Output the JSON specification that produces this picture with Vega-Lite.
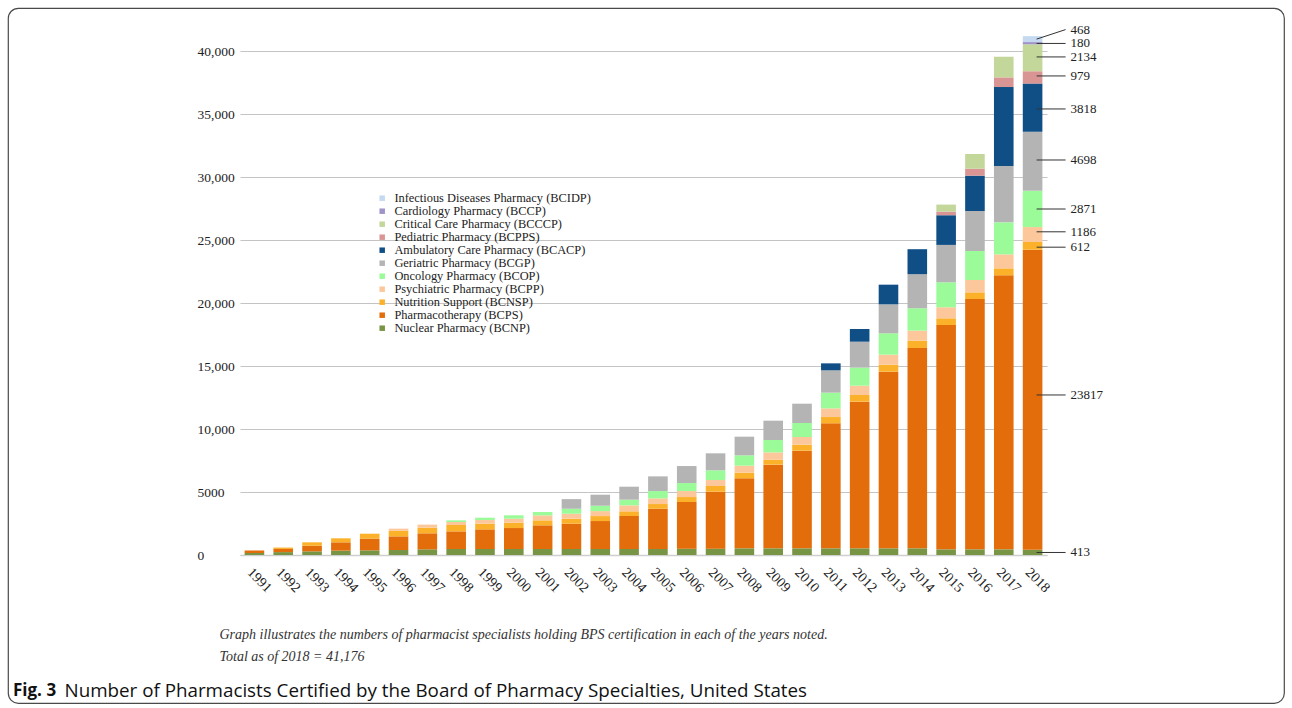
{
  "$schema": "https://vega.github.io/schema/vega-lite/v6.json",
  "width": 1276,
  "height": 695,
  "padding": {"left": 8, "top": 8, "right": 8, "bottom": 5},
  "autosize": {"type": "none"},
  "background": "white",
  "config": {
    "view": {"stroke": "#4a4a4a", "strokeWidth": 1.2, "cornerRadius": 10},
    "text": {"font": "Liberation Serif"}
  },
  "title": {
    "text": "Fig. 3",
    "orient": "bottom",
    "anchor": "start",
    "frame": "group",
    "offset": -7,
    "baseline": "alphabetic",
    "dx": 5,
    "font": "Open Sans",
    "fontSize": 17,
    "fontWeight": "bold",
    "color": "#111111"
  },
  "datasets": {
    "bps": [
      {"year": 1991, "BCNP": 160, "BCPS": 190},
      {"year": 1992, "BCNP": 230, "BCPS": 250, "BCNSP": 110},
      {"year": 1993, "BCNP": 290, "BCPS": 450, "BCNSP": 265},
      {"year": 1994, "BCNP": 345, "BCPS": 660, "BCNSP": 320},
      {"year": 1995, "BCNP": 370, "BCPS": 925, "BCNSP": 395},
      {"year": 1996, "BCNP": 395, "BCPS": 1085, "BCNSP": 450, "BCPP": 160},
      {"year": 1997, "BCNP": 450, "BCPS": 1270, "BCNSP": 450, "BCPP": 240},
      {"year": 1998, "BCNP": 475, "BCPS": 1400, "BCNSP": 505, "BCPP": 240, "BCOP": 130},
      {"year": 1999, "BCNP": 475, "BCPS": 1560, "BCNSP": 450, "BCPP": 290, "BCOP": 185},
      {"year": 2000, "BCNP": 475, "BCPS": 1665, "BCNSP": 425, "BCPP": 320, "BCOP": 265},
      {"year": 2001, "BCNP": 475, "BCPS": 1880, "BCNSP": 395, "BCPP": 395, "BCOP": 265},
      {"year": 2002, "BCNP": 475, "BCPS": 2010, "BCNSP": 395, "BCPP": 395, "BCOP": 395, "BCGP": 765},
      {"year": 2003, "BCNP": 475, "BCPS": 2220, "BCNSP": 395, "BCPP": 395, "BCOP": 425, "BCGP": 875},
      {"year": 2004, "BCNP": 475, "BCPS": 2620, "BCNSP": 370, "BCPP": 475, "BCOP": 450, "BCGP": 1030},
      {"year": 2005, "BCNP": 475, "BCPS": 3200, "BCNSP": 370, "BCPP": 450, "BCOP": 580, "BCGP": 1165},
      {"year": 2006, "BCNP": 505, "BCPS": 3700, "BCNSP": 395, "BCPP": 475, "BCOP": 635, "BCGP": 1350},
      {"year": 2007, "BCNP": 505, "BCPS": 4520, "BCNSP": 450, "BCPP": 475, "BCOP": 770, "BCGP": 1350},
      {"year": 2008, "BCNP": 530, "BCPS": 5555, "BCNSP": 450, "BCPP": 555, "BCOP": 820, "BCGP": 1480},
      {"year": 2009, "BCNP": 530, "BCPS": 6640, "BCNSP": 395, "BCPP": 580, "BCOP": 980, "BCGP": 1535},
      {"year": 2010, "BCNP": 530, "BCPS": 7750, "BCNSP": 475, "BCPP": 610, "BCOP": 1110, "BCGP": 1535},
      {"year": 2011, "BCNP": 530, "BCPS": 9920, "BCNSP": 500, "BCPP": 690, "BCOP": 1245, "BCGP": 1770, "BCACP": 555},
      {"year": 2012, "BCNP": 530, "BCPS": 11640, "BCNSP": 530, "BCPP": 740, "BCOP": 1430, "BCGP": 2060, "BCACP": 1005},
      {"year": 2013, "BCNP": 530, "BCPS": 14020, "BCNSP": 555, "BCPP": 795, "BCOP": 1695, "BCGP": 2300, "BCACP": 1560},
      {"year": 2014, "BCNP": 530, "BCPS": 15900, "BCNSP": 585, "BCPP": 795, "BCOP": 1775, "BCGP": 2700, "BCACP": 1985},
      {"year": 2015, "BCNP": 450, "BCPS": 17805, "BCNSP": 530, "BCPP": 875, "BCOP": 1985, "BCGP": 2965, "BCACP": 2355, "BCPPS": 290, "BCCCP": 555},
      {"year": 2016, "BCNP": 450, "BCPS": 19865, "BCNSP": 530, "BCPP": 980, "BCOP": 2300, "BCGP": 3175, "BCACP": 2805, "BCPPS": 555, "BCCCP": 1165},
      {"year": 2017, "BCNP": 450, "BCPS": 21745, "BCNSP": 555, "BCPP": 1110, "BCOP": 2540, "BCGP": 4470, "BCACP": 6270, "BCPPS": 765, "BCCCP": 1640},
      {"year": 2018, "BCNP": 413, "BCPS": 23817, "BCNSP": 612, "BCPP": 1186, "BCOP": 2871, "BCGP": 4698, "BCACP": 3818, "BCPPS": 979, "BCCCP": 2134, "BCCP": 180, "BCIDP": 468}
    ],
    "cats": [
      {"c": "BCIDP", "name": "Infectious Diseases Pharmacy (BCIDP)", "k": 11},
      {"c": "BCCP", "name": "Cardiology Pharmacy (BCCP)", "k": 10},
      {"c": "BCCCP", "name": "Critical Care Pharmacy (BCCCP)", "k": 9},
      {"c": "BCPPS", "name": "Pediatric Pharmacy (BCPPS)", "k": 8},
      {"c": "BCACP", "name": "Ambulatory Care Pharmacy (BCACP)", "k": 7},
      {"c": "BCGP", "name": "Geriatric Pharmacy (BCGP)", "k": 6},
      {"c": "BCOP", "name": "Oncology Pharmacy (BCOP)", "k": 5},
      {"c": "BCPP", "name": "Psychiatric Pharmacy (BCPP)", "k": 4},
      {"c": "BCNSP", "name": "Nutrition Support (BCNSP)", "k": 3},
      {"c": "BCPS", "name": "Pharmacotherapy (BCPS)", "k": 2},
      {"c": "BCNP", "name": "Nuclear Pharmacy (BCNP)", "k": 1}
    ],
    "ann": [
      {"year": 2018, "label": "468", "at": 40942, "ly": 41700},
      {"year": 2018, "label": "180", "at": 40600, "ly": 40600},
      {"year": 2018, "label": "2134", "at": 39530, "ly": 39530},
      {"year": 2018, "label": "979", "at": 38020, "ly": 38020},
      {"year": 2018, "label": "3818", "at": 35400, "ly": 35400},
      {"year": 2018, "label": "4698", "at": 31350, "ly": 31350},
      {"year": 2018, "label": "2871", "at": 27460, "ly": 27460},
      {"year": 2018, "label": "1186", "at": 25650, "ly": 25650},
      {"year": 2018, "label": "612", "at": 24430, "ly": 24430},
      {"year": 2018, "label": "23817", "at": 12700, "ly": 12700},
      {"year": 2018, "label": "413", "at": 200, "ly": 200}
    ]
  },
  "layer": [
    {
      "data": {"name": "bps"},
      "transform": [
        {"fold": ["BCNP", "BCPS", "BCNSP", "BCPP", "BCOP", "BCGP", "BCACP", "BCPPS", "BCCCP", "BCCP", "BCIDP"], "as": ["c", "v"]},
        {"filter": "datum.v != null"},
        {"lookup": "c", "from": {"data": {"name": "cats"}, "key": "c", "fields": ["name", "k"]}}
      ],
      "mark": {"type": "bar"},
      "encoding": {
        "x": {
          "field": "year",
          "type": "ordinal",
          "scale": {"range": [232, 1039], "paddingInner": 0.32, "paddingOuter": 0.16},
          "axis": {
            "title": ["Graph illustrates the numbers of pharmacist specialists holding BPS certification in each of the years noted.", "Total as of 2018 = 41,176"],
            "titleFont": "Liberation Serif",
            "titleFontStyle": "italic",
            "titleFontWeight": "normal",
            "titleFontSize": 14,
            "titleColor": "#333333",
            "titleAlign": "left",
            "titleBaseline": "alphabetic",
            "titleX": 211,
            "titleY": 83,
            "titleLineHeight": 22,
            "offset": -148,
            "labelAngle": 45,
            "labelAlign": "left",
            "labelBaseline": "top",
            "labelPadding": 10,
            "labelFont": "Liberation Serif",
            "labelFontSize": 14,
            "labelColor": "#222222",
            "ticks": false,
            "tickSize": 0,
            "domainColor": "#cfcfcf",
            "domainWidth": 1.5,
            "grid": false
          }
        },
        "y": {
          "field": "v",
          "type": "quantitative",
          "stack": "zero",
          "scale": {"domain": [0, 40000], "range": [547, 43], "nice": false, "zero": true},
          "axis": {
            "title": "Number of Pharmacists Certified by the Board of Pharmacy Specialties, United States",
            "titleFont": "Open Sans",
            "titleFontSize": 18.8,
            "titleFontWeight": "normal",
            "titleColor": "#111111",
            "titleAngle": 0,
            "titleAlign": "left",
            "titleBaseline": "alphabetic",
            "titleX": -176,
            "titleY": 688,
            "offset": -232,
            "values": [0, 5000, 10000, 15000, 20000, 25000, 30000, 35000, 40000],
            "labelExpr": "datum.value >= 10000 ? format(datum.value, ',') : format(datum.value, 'd')",
            "labelAlign": "left",
            "labelBaseline": "middle",
            "labelPadding": 43,
            "labelFont": "Liberation Serif",
            "labelFontSize": 13.5,
            "labelColor": "#222222",
            "ticks": false,
            "tickSize": 0,
            "domain": false,
            "grid": true,
            "gridColor": "#c4c4c4",
            "gridWidth": 1
          }
        },
        "color": {
          "field": "name",
          "type": "nominal",
          "scale": {
            "domain": ["Infectious Diseases Pharmacy (BCIDP)", "Cardiology Pharmacy (BCCP)", "Critical Care Pharmacy (BCCCP)", "Pediatric Pharmacy (BCPPS)", "Ambulatory Care Pharmacy (BCACP)", "Geriatric Pharmacy (BCGP)", "Oncology Pharmacy (BCOP)", "Psychiatric Pharmacy (BCPP)", "Nutrition Support (BCNSP)", "Pharmacotherapy (BCPS)", "Nuclear Pharmacy (BCNP)"],
            "range": ["#c5d9f1", "#a093c7", "#c4d79b", "#d99594", "#0f4f86", "#b4b4b4", "#9afb98", "#fcc89b", "#fbb12a", "#e36c0b", "#789545"]
          },
          "legend": {
            "orient": "none",
            "legendX": 368,
            "legendY": 184,
            "title": null,
            "padding": 0,
            "symbolType": "square",
            "symbolSize": 30,
            "symbolStrokeWidth": 0,
            "labelFont": "Liberation Serif",
            "labelFontSize": 12.4,
            "labelColor": "#222222",
            "labelLimit": 400,
            "labelOffset": 6,
            "rowPadding": -0.6
          }
        },
        "order": {"field": "k", "type": "quantitative", "sort": "ascending"}
      }
    },
    {
      "data": {"name": "ann"},
      "mark": {"type": "rule", "xOffset": 4, "x2Offset": 33, "color": "#333333", "strokeWidth": 1},
      "encoding": {
        "x": {"field": "year", "type": "ordinal"},
        "x2": {"field": "year"},
        "y": {"field": "at", "type": "quantitative", "scale": {"domain": [0, 40000], "range": [547, 43], "nice": false, "zero": true}},
        "y2": {"field": "ly"}
      }
    },
    {
      "data": {"name": "ann"},
      "mark": {"type": "text", "align": "left", "baseline": "middle", "dx": 38, "font": "Liberation Serif", "fontSize": 13, "color": "#222222"},
      "encoding": {
        "x": {"field": "year", "type": "ordinal"},
        "y": {"field": "ly", "type": "quantitative", "scale": {"domain": [0, 40000], "range": [547, 43], "nice": false, "zero": true}},
        "text": {"field": "label"}
      }
    }
  ]
}
